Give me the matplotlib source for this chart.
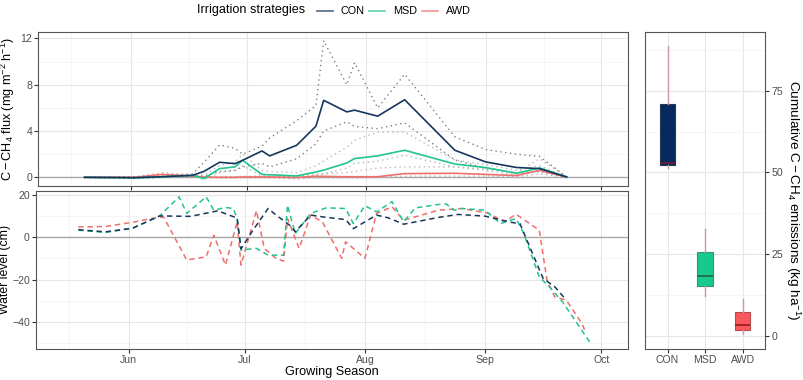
import numpy as np
import pandas as pd
import matplotlib
matplotlib.use('Agg')
import matplotlib.pyplot as plt
import matplotlib.dates as mdates
from matplotlib.lines import Line2D

plt.rcParams['font.family'] = ['Liberation Sans', 'DejaVu Sans']
plt.rcParams['mathtext.fontset'] = 'custom'
plt.rcParams['mathtext.rm'] = 'Liberation Sans'
plt.rcParams['mathtext.it'] = 'Liberation Sans:italic'

# --- data ---
treatments = ['CON', 'MSD', 'AWD']

flux_dates = ['2019-05-20', '2019-06-02', '2019-06-09', '2019-06-17', '2019-06-20',
              '2019-06-24', '2019-06-28', '2019-06-30', '2019-07-05', '2019-07-07',
              '2019-07-14', '2019-07-19', '2019-07-21', '2019-07-27', '2019-07-29',
              '2019-08-04', '2019-08-11', '2019-08-24', '2019-09-01', '2019-09-09',
              '2019-09-15', '2019-09-22']
flux_con = [0.0, -0.03, 0.05, 0.17, 0.52, 1.3, 1.18, 1.47, 2.28, 1.85, 2.77,
            4.42, 6.65, 5.65, 5.8, 5.28, 6.7, 2.34, 1.33, 0.85, 0.75, 0.03]
flux_msd = [0.0, -0.05, 0.03, 0.17, -0.1, 0.75, 0.9, 1.47, 0.25, 0.22, 0.12,
            0.46, 0.62, 1.24, 1.62, 1.85, 2.34, 1.15, 0.84, 0.35, 0.81, 0.03]
flux_awd = [0.0, 0.0, 0.25, 0.12, 0.02, 0.0, 0.0, 0.03, 0.03, 0.03, -0.02,
            0.1, 0.08, 0.05, 0.05, 0.05, 0.32, 0.35, 0.25, 0.15, 0.6, 0.03]
# replicate range (dotted)
flux_con_hi = [0.0, 0.05, 0.1, 0.3, 1.3, 2.8, 2.5, 2.0, 2.7, 3.4, 4.9,
               6.2, 11.8, 8.0, 9.9, 6.0, 8.9, 3.5, 2.4, 2.0, 1.8, 0.03]
flux_con_lo = [0.0, -0.1, 0.0, 0.05, 0.1, 0.5, 0.6, 0.9, 1.2, 0.9, 1.6,
               2.9, 4.0, 4.8, 4.4, 4.2, 4.7, 1.5, 0.8, 0.4, 0.5, 0.0]
flux_msd_hi = [0.0, 0.0, 0.05, 0.2, 0.2, 1.0, 1.3, 2.0, 0.6, 0.5, 0.4,
               1.0, 1.4, 2.6, 3.2, 3.9, 3.9, 1.5, 1.1, 0.6, 1.0, 0.0]
flux_msd_lo = [0.0, -0.1, 0.0, 0.1, -0.2, 0.4, 0.6, 1.0, 0.1, 0.05, -0.05,
               0.2, 0.3, 0.8, 1.2, 1.4, 1.9, 0.9, 0.6, 0.2, 0.6, 0.0]
flux_awd_hi = [0.0, 0.05, 0.4, 0.2, 0.05, 0.05, 0.05, 0.1, 0.1, 0.1, 0.05,
               0.3, 0.3, 0.4, 0.5, 0.8, 0.9, 0.9, 0.7, 0.4, 1.6, 0.05]
flux_awd_lo = [0.0, -0.05, 0.1, 0.05, -0.05, -0.05, -0.05, -0.05, -0.05, -0.05, -0.15,
               -0.05, -0.05, -0.05, -0.05, 0.0, 0.1, 0.1, 0.1, 0.05, 0.3, 0.0]

water_con_dates = ['2019-05-19', '2019-05-26', '2019-06-02', '2019-06-09', '2019-06-17',
                   '2019-06-24', '2019-06-29', '2019-06-30', '2019-07-03', '2019-07-07',
                   '2019-07-09', '2019-07-13', '2019-07-14', '2019-07-18', '2019-07-22',
                   '2019-07-27', '2019-07-29', '2019-08-04', '2019-08-07', '2019-08-11',
                   '2019-08-20', '2019-08-25', '2019-09-01', '2019-09-08', '2019-09-10',
                   '2019-09-16', '2019-09-19', '2019-09-22']
water_con = [3.5, 2.5, 4.2, 10.0, 9.8, 12.4, 9.0, -5.5, 3.0, 13.5, 10.5, 5.0, 2.5, 10.4,
             9.3, 8.3, 4.0, 10.4, 9.1, 6.1, 9.3, 10.7, 9.9, 6.9, 6.4, -19.5, -23.4, -29.7]

water_msd_dates = ['2019-05-19', '2019-05-26', '2019-06-02', '2019-06-09', '2019-06-14',
                   '2019-06-16', '2019-06-21', '2019-06-23', '2019-06-26', '2019-06-28',
                   '2019-06-29', '2019-06-30', '2019-07-04', '2019-07-07', '2019-07-11',
                   '2019-07-12', '2019-07-14', '2019-07-18', '2019-07-22', '2019-07-27',
                   '2019-07-29', '2019-08-01', '2019-08-04', '2019-08-08', '2019-08-11',
                   '2019-08-14', '2019-08-20', '2019-08-22', '2019-08-24', '2019-08-26',
                   '2019-09-01', '2019-09-05', '2019-09-09', '2019-09-11', '2019-09-15',
                   '2019-09-18', '2019-09-21', '2019-09-28']
water_msd = [3.3, 2.2, 4.2, 10.0, 19.0, 11.2, 19.0, 12.7, 14.0, 13.5, 8.8, -6.1, -5.3,
             -8.5, -8.5, 15.1, 1.7, 11.2, 13.8, 13.5, 6.4, 14.8, 11.9, 16.7, 7.2, 13.8,
             15.4, 15.6, 12.7, 13.5, 12.7, 6.4, 8.8, 1.7, -18.7, -24.2, -30.5, -49.4]

water_awd_dates = ['2019-05-19', '2019-05-26', '2019-06-02', '2019-06-07', '2019-06-10',
                   '2019-06-16', '2019-06-21', '2019-06-23', '2019-06-26', '2019-06-29',
                   '2019-06-30', '2019-07-04', '2019-07-06', '2019-07-09', '2019-07-11',
                   '2019-07-12', '2019-07-15', '2019-07-18', '2019-07-21', '2019-07-26',
                   '2019-07-27', '2019-08-01', '2019-08-04', '2019-08-08', '2019-08-11',
                   '2019-08-20', '2019-08-26', '2019-09-02', '2019-09-06', '2019-09-09',
                   '2019-09-15', '2019-09-17', '2019-09-19', '2019-09-22', '2019-09-26',
                   '2019-09-27']
water_awd = [4.8, 5.0, 7.0, 8.8, 9.5, -10.8, -9.3, 0.9, -13.2, 7.2, -13.2, 12.5, -5.3,
             -10.0, -11.3, 8.8, -5.3, 10.4, 7.2, -10.0, -2.2, -10.0, 11.2, 14.3, 8.0,
             12.7, 13.5, 11.2, 7.2, 10.8, 3.3, -20.3, -28.2, -29.7, -40.7, -45.0]

# cumulative emission boxes: whisker low, q1, median, q3, whisker high
cum_whislo = [51.2, 12.2, 0.5]
cum_q1 = [52.3, 15.1, 1.65]
cum_med = [53.0, 18.4, 3.3]
cum_q3 = [70.8, 25.5, 7.2]
cum_whishi = [88.7, 32.7, 11.2]

# --- style ---
line_col = {'CON': '#17365d', 'MSD': '#22c48f', 'AWD': '#ef6f6c'}
dot_col = {'CON': '#7f7f7f', 'MSD': '#aebdb7', 'AWD': '#c4b0b0'}
box_fill = ['#062a5e', '#17c98a', '#f9575b']
box_edge = ['#2a3550', '#3c8f6c', '#b54a4d']
med_col = ['#6a1f3e', '#1f6b45', '#9b1f22']
tick_col = '#4d4d4d'
fs_tick = 7.6
fs_lab = 8.8

def style_ax(ax):
	ax.set_facecolor('white')
	for s in ax.spines.values():
		s.set_color('#555555')
		s.set_linewidth(0.8)
	ax.grid(True, which='major', color='#e6e6e6', lw=0.8, zorder=0)
	ax.grid(True, which='minor', color='#f2f2f2', lw=0.5, zorder=0)
	ax.tick_params(which='major', length=2.7, width=0.8, color='#333333',
				   labelcolor=tick_col, labelsize=fs_tick, pad=1.6)
	ax.tick_params(which='minor', length=0)
	ax.set_axisbelow(True)

fig = plt.figure(figsize=(8.04, 3.8), dpi=100)
W, H = 804.0, 380.0
ax1 = fig.add_axes([38.3 / W, 1 - 186 / H, (627.7 - 38.3) / W, 154 / H])
ax2 = fig.add_axes([35.7 / W, 1 - 348.7 / H, (627.7 - 35.7) / W, 157.7 / H])
ax3 = fig.add_axes([645 / W, 1 - 349.3 / H, 120.3 / W, 317.6 / H])

xlo = pd.Timestamp('2019-05-08')
xhi = pd.Timestamp('2019-10-07 20:00')
months = pd.to_datetime(['2019-05-01', '2019-06-01', '2019-07-01', '2019-08-01',
						 '2019-09-01', '2019-10-01'])
mids = months[:-1] + (months[1:] - months[:-1]) / 2
months = months[1:]

fd = pd.to_datetime(flux_dates)
flux_mean = {'CON': flux_con, 'MSD': flux_msd, 'AWD': flux_awd}
flux_hi = {'CON': flux_con_hi, 'MSD': flux_msd_hi, 'AWD': flux_awd_hi}
flux_lo = {'CON': flux_con_lo, 'MSD': flux_msd_lo, 'AWD': flux_awd_lo}

# top panel: flux
style_ax(ax1)
ax1.axhline(0, color='#a8a8a8', lw=1.0, zorder=1)
for t in ['AWD', 'MSD', 'CON']:
	ax1.plot(fd, flux_hi[t], ls=(0, (1, 2.5)), color=dot_col[t], lw=1.0, zorder=2)
	ax1.plot(fd, flux_lo[t], ls=(0, (1, 2.5)), color=dot_col[t], lw=1.0, zorder=2)
for t in ['AWD', 'MSD', 'CON']:
	ax1.plot(fd, flux_mean[t], color=line_col[t], lw=1.2, zorder=3)
ax1.set_xlim(xlo, xhi)
ax1.set_ylim(-0.75, 12.55)
ax1.set_yticks([0, 4, 8, 12])
ax1.set_yticks([2, 6, 10], minor=True)
ax1.set_xticks(months)
ax1.set_xticks(mids, minor=True)
ax1.set_xticklabels([])
ax1.set_ylabel(r'$\mathregular{C-CH_4\ flux\ (mg\ m^{-2}\ h^{-1})}$', fontsize=fs_lab + 0.3)
ax1.yaxis.set_label_coords((17.5 - 38.3) / 589.4, 0.5)

# bottom panel: water level
style_ax(ax2)
ax2.axhline(0, color='#a8a8a8', lw=1.0, zorder=1)
water = {'CON': (water_con_dates, water_con), 'MSD': (water_msd_dates, water_msd),
		 'AWD': (water_awd_dates, water_awd)}
for t in ['AWD', 'MSD', 'CON']:
	d, v = water[t]
	ax2.plot(pd.to_datetime(d), v, ls=(0, (3.5, 2.5)), color=line_col[t], lw=1.1, zorder=3)
ax2.set_xlim(xlo, xhi)
ax2.set_ylim(-52.6, 21.75)
ax2.set_yticks([-40, -20, 0, 20])
ax2.set_yticks([-50, -30, -10, 10], minor=True)
ax2.set_xticks(months)
ax2.set_xticks(mids, minor=True)
ax2.xaxis.set_major_formatter(mdates.DateFormatter('%b'))
ax2.set_ylabel('Water level (cm)', fontsize=fs_lab)
ax2.yaxis.set_label_coords((11 - 35.7) / 592.0, 0.5)
ax2.set_xlabel('Growing Season', fontsize=9.1, labelpad=1)

# right panel: cumulative emissions
style_ax(ax3)
stats = []
for i, t in enumerate(treatments):
	stats.append({'label': t, 'whislo': cum_whislo[i], 'q1': cum_q1[i], 'med': cum_med[i],
				  'q3': cum_q3[i], 'whishi': cum_whishi[i], 'fliers': []})
bp = ax3.bxp(stats, positions=[1, 2, 3], widths=0.41, patch_artist=True, showcaps=False,
			 whiskerprops=dict(color='#c99a9e', lw=1.0), zorder=3)
for i, b in enumerate(bp['boxes']):
	b.set_facecolor(box_fill[i])
	b.set_edgecolor(box_edge[i])
	b.set_linewidth(0.8)
for i, m in enumerate(bp['medians']):
	m.set_color(med_col[i])
	m.set_linewidth(1.3)
ax3.set_xlim(0.4, 3.6)
ax3.set_ylim(-4.16, 93.06)
ax3.set_yticks([0, 25, 50, 75])
ax3.set_yticks([12.5, 37.5, 62.5, 87.5], minor=True)
ax3.set_xticks([1, 2, 3])
ax3.set_xticklabels(treatments)
ax3.yaxis.tick_right()
ax3.yaxis.set_label_position('right')
ax3.set_ylabel(r'$\mathregular{Cumulative\ C-CH_4\ emissions\ (kg\ ha^{-1})}$',
			   fontsize=9.7, rotation=270)
ax3.yaxis.set_label_coords((802.5 - 645) / 120.3, 0.47)

# legend on top (title inline, keys to the right)
ly = 1 - 10.5 / H
fig.text(197 / W, ly, 'Irrigation strategies', fontsize=9.1, va='center', ha='left')
key_x = [317, 369, 422]
for t, kx in zip(treatments, key_x):
	fig.add_artist(Line2D([kx / W, (kx + 16) / W], [ly, ly], color=line_col[t], lw=1.2,
						  alpha=0.75, transform=fig.transFigure))
	fig.text((kx + 24) / W, ly, t, fontsize=fs_tick + 0.2, va='center', ha='left')

fig.savefig('out.png', dpi=100)
